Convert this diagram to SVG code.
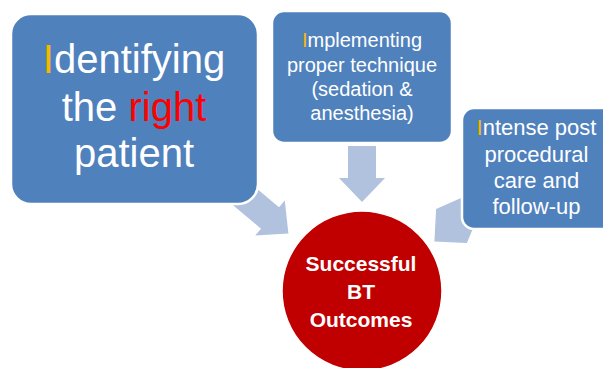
<svg xmlns="http://www.w3.org/2000/svg" width="603" height="368" viewBox="0 0 603 368">
<style>
.box{fill:#4F81BD;stroke:#FFFFFF;stroke-width:2.5}
.arr{fill:#B1C2DE}
.t{font-family:"Liberation Sans",Arial,sans-serif;fill:#FFFFFF;text-anchor:middle}
.o{fill:#F5B800}
.r{fill:#FF0000}
.c{font-family:"Liberation Sans",Arial,sans-serif;fill:#FFFFFF;text-anchor:middle;font-weight:bold;font-size:21px}
</style>
<rect width="603" height="368" fill="#FFFFFF"/>
<g id="connectors">
<polygon class="arr" points="222.7,196.6 240.7,175.2 279,207.3 284.8,200.4 288.4,233.4 255.2,235.6 261,228.7"/>
<polygon class="arr" points="348,146 376,146 376,178 385,178 362,202 339,178 348,178"/>
<polygon class="arr" points="498,203 479,182 461,198 436.1,208.9 434.4,241.4 466.9,243.1 479,214"/>
</g>
<g id="node-identify">
<rect class="box" x="11" y="14" width="247" height="190" rx="20"/>
<text class="t" font-size="40" x="134" y="73"><tspan class="o">I</tspan>dentifying</text>
<text class="t" font-size="40" x="134" y="121">the <tspan class="r">right</tspan></text>
<text class="t" font-size="40" x="134" y="167">patient</text>
</g>
<g id="node-implement">
<rect class="box" x="272" y="11" width="180" height="132" rx="12"/>
<text class="t" font-size="20" x="362" y="47"><tspan class="o">I</tspan>mplementing</text>
<text class="t" font-size="20" x="362" y="71.5">proper technique</text>
<text class="t" font-size="20" x="362" y="95.5">(sedation &amp;</text>
<text class="t" font-size="20" x="362" y="119.5">anesthesia)</text>
</g>
<g id="node-care">
<rect class="box" x="462" y="108" width="152" height="121" rx="12"/>
<text class="t" font-size="22" x="536.5" y="135"><tspan class="o">I</tspan>ntense post</text>
<text class="t" font-size="22" x="536.5" y="161.5">procedural</text>
<text class="t" font-size="22" x="536.5" y="188">care and</text>
<text class="t" font-size="22" x="536.5" y="213.5">follow-up</text>
</g>
<g id="node-outcome">
<circle cx="362" cy="291" r="80" fill="#C00000" stroke="#FFFFFF" stroke-width="1.5"/>
<text class="c" x="361" y="270.5">Successful</text>
<text class="c" x="361" y="299">BT</text>
<text class="c" x="361" y="327">Outcomes</text>
</g>
</svg>
